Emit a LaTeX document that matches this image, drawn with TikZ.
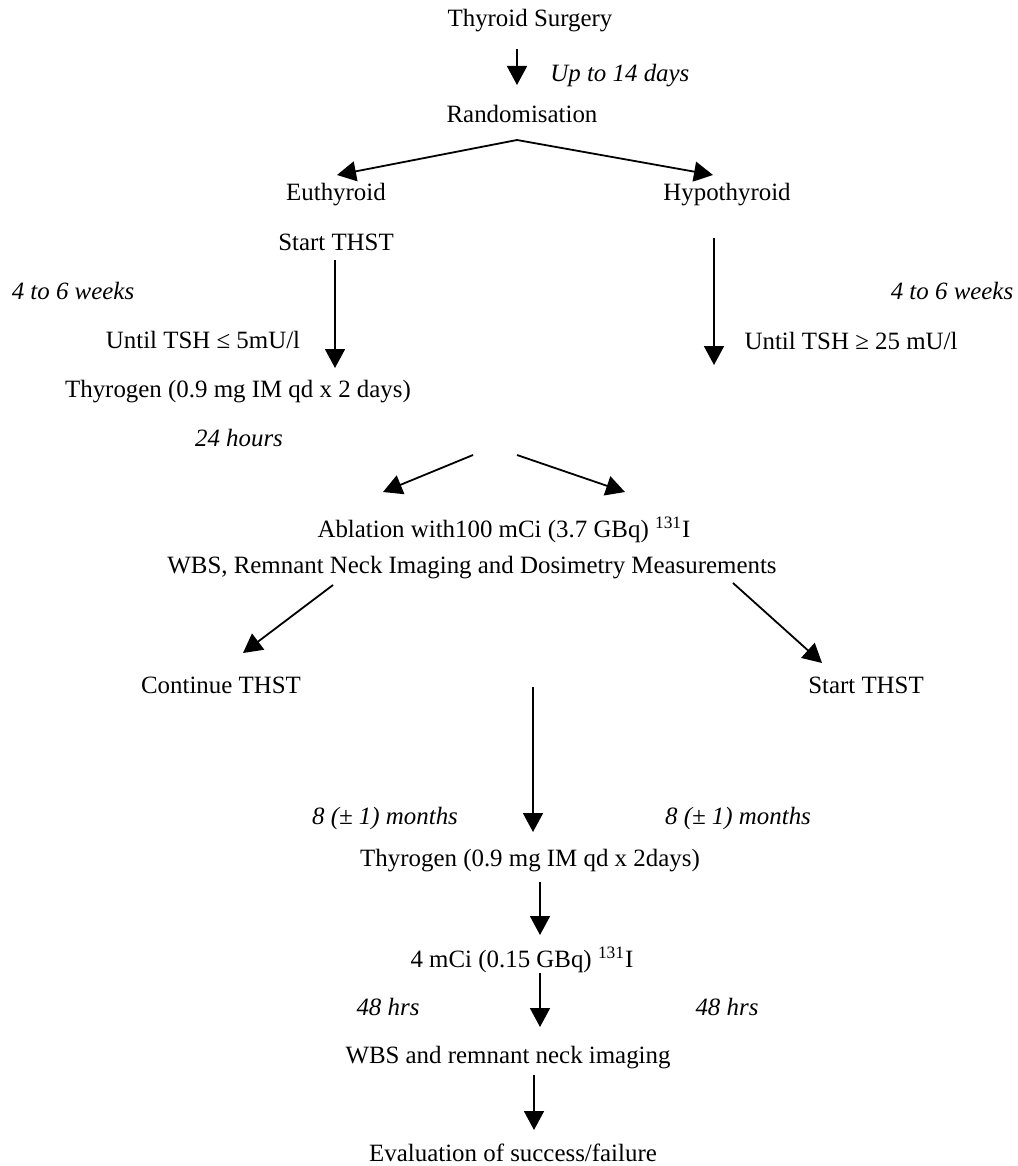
\documentclass[tikz,border=0pt]{standalone}
\usepackage{fontspec}
\setmainfont{Liberation Serif}
\usetikzlibrary{arrows.meta,positioning}
\tikzset{%
    >={Triangle[length=9.5pt,width=10pt]},
    every node/.style={font=\fontsize{12.45}{15}\selectfont,inner sep=0pt,anchor=base},
    stage/.style={},
    dur/.style={font=\fontsize{12.45}{15}\selectfont\itshape},
    arr/.style={->,line width=0.9pt}
}
\begin{document}
\begin{tikzpicture}[x=0.5pt,y=-0.5pt]
            \useasboundingbox (0,0) rectangle (1017,1166);
            \node [stage] (surg) at (530,27) {Thyroid Surgery};
            \node [dur,anchor=base west] (d14) at (550,82) {Up to 14 days};
            \node [stage] (rand) at (522,123) {Randomisation};
            \node [stage] (eu) at (336,201) {Euthyroid};
            \node [stage] (hypo) at (727,201) {Hypothyroid};
            \node [stage] (thst1) at (336,250) {Start THST};
            \node [dur] (w1) at (73,299) {4 to 6 weeks};
            \node [dur] (w2) at (952,299) {4 to 6 weeks};
            \node [stage] (tsh1) at (203,348) {Until TSH ≤ 5mU/l};
            \node [stage] (tsh2) at (851,349) {Until TSH ≥ 25 mU/l};
            \node [stage] (thy1) at (238,397) {Thyrogen (0.9 mg IM qd x 2 days)};
            \node [dur] (h24) at (239,446) {24 hours};
            \node [stage] (abl) at (504,537) {Ablation with100 mCi (3.7 GBq) \textsuperscript{131}I};
            \node [stage] (wbs1) at (472,573) {WBS, Remnant Neck Imaging and Dosimetry Measurements};
            \node [stage] (cont) at (221,693) {Continue THST};
            \node [stage] (thst2) at (866,693) {Start THST};
            \node [dur] (m1) at (385,824) {8 (± 1) months};
            \node [dur] (m2) at (738,824) {8 (± 1) months};
            \node [stage] (thy2) at (530,866) {Thyrogen (0.9 mg IM qd x 2days)};
            \node [stage] (mci) at (522,967) {4 mCi (0.15 GBq) \textsuperscript{131}I};
            \node [dur] (h48a) at (388,1015) {48 hrs};
            \node [dur] (h48b) at (727,1015) {48 hrs};
            \node [stage] (wbs2) at (508,1063) {WBS and remnant neck imaging};
            \node [stage] (eval) at (513,1161) {Evaluation of success/failure};
            %%%%%
            \coordinate (c1a) at (517,49);  \coordinate (c1b) at (517,85);
            \coordinate (c2) at (517,140);
            \coordinate (c2a) at (337,175); \coordinate (c2b) at (713,175);
            \coordinate (c3a) at (335,260); \coordinate (c3b) at (335,368);
            \coordinate (c4a) at (714,238); \coordinate (c4b) at (714,365);
            \coordinate (c5a) at (473,455); \coordinate (c5b) at (383,492);
            \coordinate (c6a) at (517,455); \coordinate (c6b) at (625,492);
            \coordinate (c7a) at (333,585); \coordinate (c7b) at (243,653);
            \coordinate (c8a) at (733,583); \coordinate (c8b) at (822,663);
            \coordinate (c9a) at (533,687); \coordinate (c9b) at (533,832);
            \coordinate (c10a) at (540,882); \coordinate (c10b) at (540,935);
            \coordinate (c11a) at (540,973); \coordinate (c11b) at (540,1027);
            \coordinate (c12a) at (534,1075); \coordinate (c12b) at (534,1130);
            %%%%%
            \draw[arr] (c1a) -- (c1b);
            \draw[arr] (c2) -- (c2a);
            \draw[arr] (c2) -- (c2b);
            \draw[arr] (c3a) -- (c3b);
            \draw[arr] (c4a) -- (c4b);
            \draw[arr] (c5a) -- (c5b);
            \draw[arr] (c6a) -- (c6b);
            \draw[arr] (c7a) -- (c7b);
            \draw[arr] (c8a) -- (c8b);
            \draw[arr] (c9a) -- (c9b);
            \draw[arr] (c10a) -- (c10b);
            \draw[arr] (c11a) -- (c11b);
            \draw[arr] (c12a) -- (c12b);
\end{tikzpicture}
\end{document}
